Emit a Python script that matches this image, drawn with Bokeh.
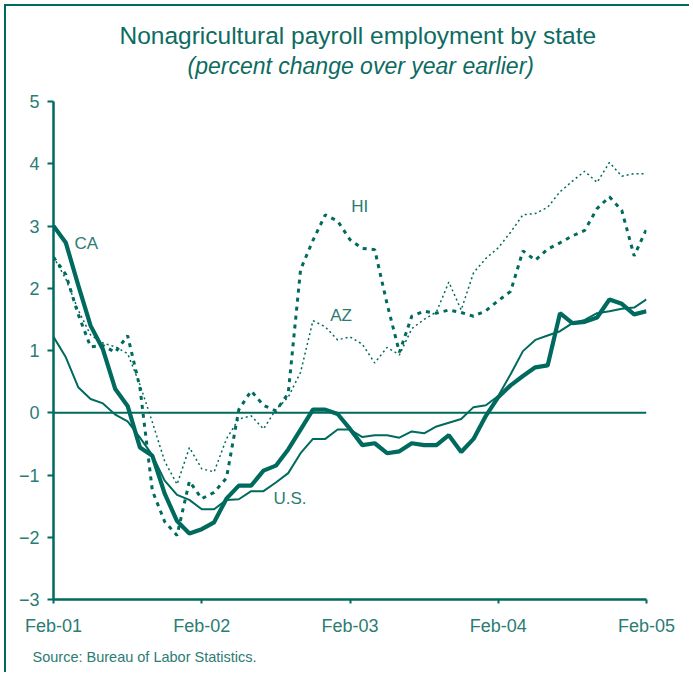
from bokeh.plotting import figure
from bokeh.models import Range1d, FixedTicker, Span, Label, Title
from bokeh.embed import file_html
from bokeh.resources import INLINE

# ---- data (percent change over year earlier), monthly Feb-01 .. Feb-05 ----
ca = [3.00, 2.73, 2.05, 1.40, 1.02, 0.38, 0.11, -0.56, -0.69, -1.30, -1.74, -1.94, -1.87,
      -1.76, -1.38, -1.17, -1.17, -0.93, -0.85, -0.59, -0.27, 0.05, 0.05, -0.02, -0.26,
      -0.52, -0.49, -0.65, -0.62, -0.49, -0.52, -0.52, -0.36, -0.63, -0.42, -0.05, 0.25,
      0.44, 0.59, 0.73, 0.76, 1.60, 1.44, 1.46, 1.53, 1.82, 1.75, 1.58, 1.63]
us = [1.22, 0.89, 0.41, 0.22, 0.15, -0.03, -0.14, -0.40, -0.68, -1.09, -1.32, -1.40, -1.55,
      -1.55, -1.40, -1.39, -1.26, -1.26, -1.12, -0.97, -0.65, -0.42, -0.42, -0.27, -0.27,
      -0.39, -0.36, -0.36, -0.40, -0.30, -0.33, -0.22, -0.16, -0.10, 0.09, 0.12, 0.27,
      0.62, 0.99, 1.17, 1.24, 1.31, 1.44, 1.49, 1.60, 1.63, 1.67, 1.69, 1.82]
hi = [2.50, 2.22, 1.58, 1.06, 1.08, 0.97, 1.24, 0.40, -1.25, -1.75, -1.97, -1.10, -1.38,
      -1.28, -1.05, 0.05, 0.35, 0.12, 0.03, 0.31, 2.30, 2.77, 3.18, 3.08, 2.78,
      2.64, 2.62, 1.75, 0.97, 1.55, 1.63, 1.60, 1.65, 1.61, 1.55, 1.64, 1.80,
      1.95, 2.60, 2.45, 2.63, 2.73, 2.84, 2.93, 3.28, 3.47, 3.25, 2.52, 2.95]
az = [2.50, 2.15, 1.65, 1.25, 1.12, 1.06, 0.95, 0.45, -0.15, -0.78, -1.15, -0.56, -0.90,
      -0.95, -0.42, -0.10, -0.05, -0.26, 0.05, 0.25, 0.65, 1.48, 1.38, 1.17, 1.22,
      1.10, 0.80, 1.05, 0.93, 1.35, 1.50, 1.62, 2.10, 1.65, 2.25, 2.48, 2.65,
      2.90, 3.18, 3.20, 3.30, 3.55, 3.72, 3.88, 3.70, 4.02, 3.80, 3.84, 3.84]
tick_labels = ["Feb-01", "Feb-02", "Feb-03", "Feb-04", "Feb-05"]
y_ticks = [-3, -2, -1, 0, 1, 2, 3, 4, 5]

months = list(range(len(ca)))
tick_pos = [i * 12 for i in range(len(tick_labels))]

LINE = "#006A5E"
TEXT = "#2B7C73"
TITLE = "#0E6B61"
FONT = "Liberation Sans"

p = figure(width=685, height=668, output_backend="svg", toolbar_location=None,
           x_range=Range1d(0, 48), y_range=Range1d(-3, 5),
           min_border_left=47, min_border_right=45, min_border_top=95, min_border_bottom=75)
p.title = None
p.styles = {"border-top": "2px solid " + LINE, "border-left": "2px solid " + LINE,
            "margin-top": "4px", "margin-left": "4px"}
p.outline_line_color = None
p.xgrid.visible = False
p.ygrid.visible = False
p.background_fill_color = "white"
p.border_fill_color = "white"

# axes
p.xaxis.ticker = FixedTicker(ticks=tick_pos)
p.xaxis.major_label_overrides = {t: l for t, l in zip(tick_pos, tick_labels)}
p.yaxis.ticker = FixedTicker(ticks=y_ticks)
p.xaxis.minor_tick_line_color = None
p.yaxis.minor_tick_line_color = None
for ax in (p.xaxis, p.yaxis):
    ax.axis_line_color = LINE
    ax.axis_line_width = 2.5
    ax.major_tick_line_color = LINE
    ax.major_tick_line_width = 2
    ax.major_tick_in = 0
    ax.major_label_text_color = TEXT
    ax.major_label_text_font = FONT
    ax.major_label_text_font_size = "18px"
p.xaxis.major_tick_out = 4
p.xaxis.major_label_standoff = 12
p.yaxis.major_tick_out = 6
p.yaxis.major_label_standoff = 8

p.add_layout(Span(location=0, dimension="width", line_color=LINE, line_width=2))

# series
p.line(months, az, line_color=LINE, line_width=1.5, line_dash="2 3")
p.line(months, hi, line_color=LINE, line_width=3, line_dash="4 5")
p.line(months, us, line_color=LINE, line_width=2)
p.line(months, ca, line_color=LINE, line_width=4.2)

# series labels
for txt, x, y in [("CA", 1.7, 2.72), ("HI", 24.1, 3.31), ("AZ", 22.4, 1.57), ("U.S.", 17.8, -1.38)]:
    p.add_layout(Label(x=x, y=y, text=txt, text_color=TEXT, text_font=FONT,
                       text_font_size="17px", text_baseline="middle", text_align="left"))

# titles (first added sits closest to the plot) and source
p.add_layout(Title(text="(percent change over year earlier)", align="left", offset=134,
                   text_color=TITLE, text_font=FONT, text_font_size="23px",
                   text_font_style="italic", standoff=46), "above")
p.add_layout(Title(text="Nonagricultural payroll employment by state", align="left", offset=66,
                   text_color=TITLE, text_font=FONT, text_font_size="24.5px",
                   text_font_style="normal", standoff=-42), "above")
p.add_layout(Title(text="Source: Bureau of Labor Statistics.", align="left", offset=-21,
                   text_color=TEXT, text_font=FONT, text_font_size="14.5px",
                   text_font_style="normal", standoff=16), "below")

open("out.html", "w").write(file_html(p, INLINE))
